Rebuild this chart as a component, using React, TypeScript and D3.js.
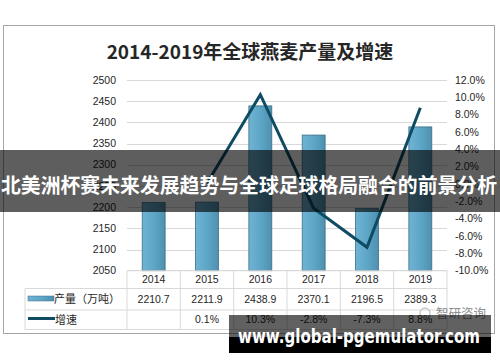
import React from 'react';
import * as d3 from 'd3';

const years = ['2014', '2015', '2016', '2017', '2018', '2019'];
const production = [2210.7, 2211.9, 2438.9, 2370.1, 2196.5, 2389.3];
const growth: (number | null)[] = [null, 0.1, 10.3, -2.8, -7.3, 8.8];
const productionLabels = ['2210.7', '2211.9', '2438.9', '2370.1', '2196.5', '2389.3'];
const growthLabels = ['', '0.1%', '10.3%', '-2.8%', '-7.3%', '8.8%'];
const leftTicks = [2050, 2100, 2150, 2200, 2250, 2300, 2350, 2400, 2450, 2500];
const rightTicks = [-10, -8, -6, -4, -2, 0, 2, 4, 6, 8, 10, 12];
const title = '2014-2019年全球燕麦产量及增速';
const seriesNames = ['产量（万吨）', '增速'];
const bannerText = '北美洲杯赛未来发展趋势与全球足球格局融合的前景分析';
const watermark = 'www.global-pgemulator.com';

const FONT = '"Liberation Sans", "Noto Sans CJK SC", sans-serif';
const CJK = '"Noto Sans CJK SC", sans-serif';

export default function App() {
  const W = 500, H = 362;
  const plotL = 127, plotR = 447, plotT = 80, plotB = 270.7;
  const x = d3.scaleBand<string>().domain(years).range([plotL, plotR]).paddingInner(0).paddingOuter(0);
  const yL = d3.scaleLinear().domain([2050, 2500]).range([plotB, plotT]);
  const yR = d3.scaleLinear().domain([-10, 12]).range([plotB, plotT]);
  const barW = x.bandwidth() * 0.43;
  const lineGen = d3.line<{ year: string; v: number }>()
    .x(d => (x(d.year) as number) + x.bandwidth() / 2)
    .y(d => yR(d.v));
  const linePts = years.map((yr, i) => ({ year: yr, v: growth[i] })).filter(d => d.v !== null) as { year: string; v: number }[];

  const tableL = 25;
  const rowTop = 270.7, row1B = 288.5, row2B = 310, row3B = 329.5;
  const gridColor = '#d9d9d9';
  const textColor = '#262626';

  return (
    <svg width={W} height={H} style={{ position: 'absolute', left: 0, top: 0, background: '#fff' }}>
      <defs>
        <linearGradient id="barGrad" x1="0" y1="0" x2="1" y2="0">
          <stop offset="0%" stopColor="#6fb3d3" />
          <stop offset="50%" stopColor="#5ea6c7" />
          <stop offset="100%" stopColor="#4f90b0" />
        </linearGradient>
      </defs>
      <rect x={0} y={0} width={W} height={H} fill="#fff" />
      <rect x={3.5} y={25.5} width={491} height={308} fill="#fff" stroke="#a6a6a6" strokeWidth={1} />
      <text x={250} y={59} textAnchor="middle" fontFamily={CJK} fontWeight="bold" fontSize={19} fill="#262626">{title}</text>

      {/* gridlines */}
      {leftTicks.slice(1).map(t => (
        <line key={t} x1={plotL} x2={plotR} y1={Math.round(yL(t)) + 0.5} y2={Math.round(yL(t)) + 0.5} stroke={gridColor} strokeWidth={1} />
      ))}
      {/* left axis labels */}
      {leftTicks.map(t => (
        <text key={t} x={116} y={yL(t)} dy="0.35em" textAnchor="end" fontFamily={FONT} fontSize={10.5} fill={textColor}>{t}</text>
      ))}
      {/* right axis labels */}
      {rightTicks.map(t => (
        <text key={t} x={455} y={yR(t)} dy="0.35em" textAnchor="start" fontFamily={FONT} fontSize={10.5} fill={textColor}>{t.toFixed(1) + '%'}</text>
      ))}

      {/* bars */}
      {years.map((yr, i) => {
        const cx = (x(yr) as number) + x.bandwidth() / 2;
        return (
          <rect key={yr} x={cx - barW / 2} y={yL(production[i])} width={barW} height={plotB - yL(production[i])}
            fill="url(#barGrad)" stroke="#3e6f86" strokeWidth={0.8} />
        );
      })}
      {/* line */}
      <path d={lineGen(linePts) || ''} fill="none" stroke="#0f4c63" strokeWidth={3} strokeLinejoin="miter" />

      {/* table */}
      <line x1={plotL} x2={plotR} y1={rowTop} y2={rowTop} stroke="#d0d0d0" />
      {[row1B, row2B, row3B].map((yy, i) => (
        <line key={i} x1={tableL} x2={plotR} y1={yy} y2={yy} stroke={gridColor} />
      ))}
      <line x1={tableL} x2={tableL} y1={row1B} y2={row3B} stroke={gridColor} />
      {years.map(yr => (
        <line key={yr} x1={x(yr) as number} x2={x(yr) as number} y1={rowTop} y2={row3B} stroke={gridColor} />
      ))}
      <line x1={plotR} x2={plotR} y1={rowTop} y2={row3B} stroke={gridColor} />
      {years.map((yr, i) => {
        const cx = (x(yr) as number) + x.bandwidth() / 2;
        return (
          <g key={yr}>
            <text x={cx} y={(rowTop + row1B) / 2} dy="0.35em" textAnchor="middle" fontFamily={FONT} fontSize={10.5} fill={textColor}>{yr}</text>
            <text x={cx} y={(row1B + row2B) / 2} dy="0.35em" textAnchor="middle" fontFamily={FONT} fontSize={10.5} fill={textColor}>{productionLabels[i]}</text>
            <text x={cx} y={(row2B + row3B) / 2} dy="0.35em" textAnchor="middle" fontFamily={FONT} fontSize={10.5} fill={textColor}>{growthLabels[i]}</text>
          </g>
        );
      })}
      {/* legend keys */}
      <rect x={28} y={296} width={26} height={5} fill="url(#barGrad)" stroke="#3e6f86" strokeWidth={0.5} />
      <text x={54} y={(row1B + row2B) / 2} dy="0.35em" fontFamily={CJK} fontSize={11} fill={textColor}>{seriesNames[0]}</text>
      <line x1={28} x2={55} y1={318.5} y2={318.5} stroke="#0f4c63" strokeWidth={3} />
      <text x={55} y={(row2B + row3B) / 2} dy="0.35em" fontFamily={CJK} fontSize={11} fill={textColor}>{seriesNames[1]}</text>

      {/* source logo */}
      <text x={436} y={318} textAnchor="start" fontFamily={CJK} fontSize={12.5} fill="#8c8c8c">智研咨询</text>
      <circle cx={425} cy={313} r={5} fill="none" stroke="#b0b0b0" strokeWidth={1} />

      {/* banner overlay */}
      <rect x={0} y={150} width={W} height={62} fill="rgba(0,0,0,0.63)" />
      <text x={1} y={184} dominantBaseline="central" textAnchor="start" textLength={496} lengthAdjust="spacingAndGlyphs" fontFamily={CJK} fontWeight="bold" fontSize={20.5} fill="#ffffff">{bannerText}</text>

      {/* watermark */}
      <rect x={229} y={315} width={262} height={22} fill="rgba(0,0,0,0.62)" />
      <rect x={229} y={337} width={262} height={16} fill="#000" />
      <text x={238} y={343} textLength={242} lengthAdjust="spacingAndGlyphs" fontFamily='"DejaVu Sans", sans-serif' fontWeight="bold" fontSize={19} fill="#ffffff">{watermark}</text>
    </svg>
  );
}
